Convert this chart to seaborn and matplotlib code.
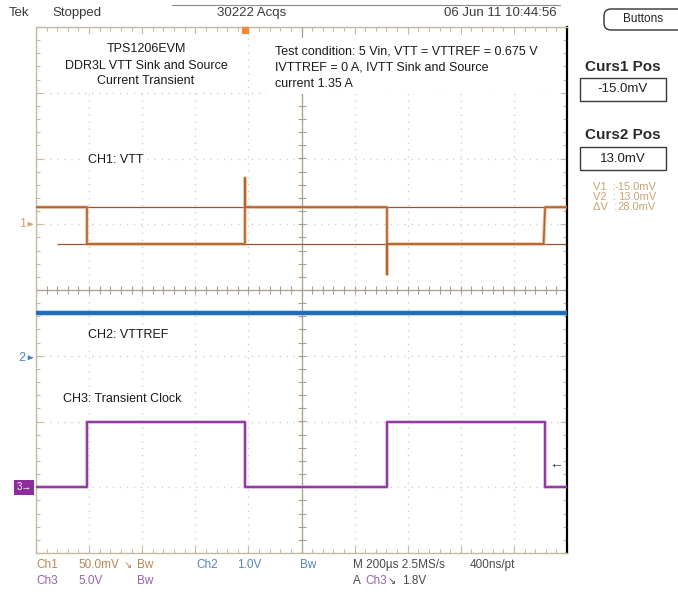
import numpy as np
import pandas as pd
import matplotlib
matplotlib.use("Agg")
import matplotlib.pyplot as plt
import matplotlib.patheffects as pe
from matplotlib.ticker import MultipleLocator
from matplotlib.patches import Rectangle, FancyBboxPatch
from matplotlib.transforms import blended_transform_factory
import seaborn as sns

# ---- scope settings -------------------------------------------------------
time_per_div_us = 200          # M 200us
ch1_scale_mv = 50.0            # Ch1 50.0 mV/div
ch1_offset_div = 1.0
ch2_scale_v = 1.0              # Ch2 1.0 V/div
ch2_offset_div = -1.03
ch3_scale_v = 5.0              # Ch3 5.0 V/div
ch3_offset_div = -3.0
trigger_level_v = 1.8
trigger_time_us = -213

# ---- captured waveforms (breakpoints) -------------------------------------
ch1_time_us = [-1000, -808, -808, -213, -213, -213, 322, 322, 322, 912, 916, 918, 1000]
ch1_mv      = [13, 13, -15, -15, 35, 13, 13, -38, -15, -15, 6, 13, 13]

ch2_time_us = [-1000, 1000]
ch2_v       = [0.675, 0.675]

ch3_time_us = [-1000, -808, -808, -213, -213, 322, 322, 917, 917, 1000]
ch3_v       = [0, 0, 5, 5, 0, 0, 5, 5, 0, 0]

cursor_mv = [-15.0, 13.0]

# ---- colours ---------------------------------------------------------------
ch1_color = "#b5612a"
ch2_color = "#1f6cb6"
ch3_color = "#8f2c9d"
grid_color = "#d8cebd"
frame_color = "#c6b9a2"
cross_color = "#aaa092"
sans = ["Liberation Sans", "DejaVu Sans"]
narrow = ["Liberation Sans Narrow", "Liberation Sans", "DejaVu Sans"]

sns.set_theme(style="white")
plt.rcParams["font.family"] = sans

fig = plt.figure(figsize=(6.78, 5.92), dpi=100)
fig.patch.set_facecolor("white")
ax = fig.add_axes([36 / 678, 1 - 553 / 592, 531 / 678, 526 / 592])
ax.set_facecolor("white")

# graticule
ax.set_xlim(-5 * time_per_div_us, 5 * time_per_div_us)
ax.set_ylim(-4, 4)
ax.xaxis.set_major_locator(MultipleLocator(time_per_div_us))
ax.xaxis.set_minor_locator(MultipleLocator(time_per_div_us / 5))
ax.yaxis.set_major_locator(MultipleLocator(1))
ax.yaxis.set_minor_locator(MultipleLocator(0.2))
ax.grid(which="major", color=grid_color, linestyle=(0, (1, 4)), linewidth=1.0)
ax.tick_params(which="both", direction="in", top=True, bottom=True, left=True,
               right=True, labelbottom=False, labelleft=False, color=frame_color)
ax.tick_params(which="major", length=5, width=0.8)
ax.tick_params(which="minor", length=3, width=0.8)
for side in ["left", "top", "bottom"]:
    ax.spines[side].set_color(frame_color)
    ax.spines[side].set_linewidth(1.0)
ax.spines["right"].set_color("black")
ax.spines["right"].set_linewidth(1.6)

ax.axhline(0, color=cross_color, lw=0.9, zorder=1)
ax.axvline(0, color=cross_color, lw=0.9, zorder=1)
minor_t = np.arange(-5 * time_per_div_us, 5 * time_per_div_us + 1, time_per_div_us / 5)
minor_y = np.arange(-4, 4.01, 0.2)
ax.plot(minor_t, np.zeros_like(minor_t), ls="none", marker="|", ms=6,
        mew=0.8, color=cross_color, zorder=1)
ax.plot(np.zeros_like(minor_y), minor_y, ls="none", marker="_", ms=6,
        mew=0.8, color=cross_color, zorder=1)

# cursor lines on Ch1
cur_div = [ch1_offset_div + v / ch1_scale_mv for v in cursor_mv]
ax.hlines(cur_div[0], -920, 1000, color="#98552c", lw=0.9, zorder=2)
ax.hlines(cur_div[1], -1000, 1000, color="#98552c", lw=0.9, zorder=2)

# traces
df1 = pd.DataFrame({"t": ch1_time_us,
                    "div": ch1_offset_div + np.array(ch1_mv) / ch1_scale_mv})
df2 = pd.DataFrame({"t": ch2_time_us,
                    "div": ch2_offset_div + np.array(ch2_v) / ch2_scale_v})
df3 = pd.DataFrame({"t": ch3_time_us,
                    "div": ch3_offset_div + np.array(ch3_v) / ch3_scale_v})

sns.lineplot(data=df1, x="t", y="div", ax=ax, sort=False, estimator=None,
             color=ch1_color, lw=1.2, zorder=4,
             path_effects=[pe.Stroke(linewidth=2.6, foreground="#dca272", alpha=0.6), pe.Normal()])
sns.lineplot(data=df2, x="t", y="div", ax=ax, sort=False, estimator=None,
             color=ch2_color, lw=2.8, zorder=4,
             path_effects=[pe.Stroke(linewidth=4.0, foreground="#74a6d8", alpha=0.6), pe.Normal()])
sns.lineplot(data=df3, x="t", y="div", ax=ax, sort=False, estimator=None,
             color=ch3_color, lw=1.3, zorder=4,
             path_effects=[pe.Stroke(linewidth=2.6, foreground="#bb84c8", alpha=0.6), pe.Normal()])
ax.set_xlabel("")
ax.set_ylabel("")

# trigger position marker and trigger level arrow
ax.plot([trigger_time_us], [3.96], marker="s", ms=4.5, color="#f08a3a",
        clip_on=False, zorder=6)
trig_div = ch3_offset_div + trigger_level_v / ch3_scale_v
ax.text(960, trig_div, "\u2190", ha="center", va="center", fontsize=10,
        color="#333333", zorder=6)

# channel ground markers on the left
blend = blended_transform_factory(ax.transAxes, ax.transData)
for lab, off, col in [("1", ch1_offset_div, "#d9a070"), ("2", ch2_offset_div, "#4f86c0")]:
    ax.text(-0.026, off, lab, transform=blend, ha="center", va="center",
            fontsize=9, color=col, clip_on=False)
    ax.annotate("", xy=(0.0, off), xycoords=blend, xytext=(-0.015, off),
                textcoords=blend,
                arrowprops=dict(arrowstyle="-|>", color=col, lw=1.0, mutation_scale=6))
ax.text(-0.022, ch3_offset_div, "3\u2192", transform=blend, ha="center",
        va="center", fontsize=7, color="white", clip_on=False,
        bbox=dict(boxstyle="square,pad=0.25", fc=ch3_color, ec="none"))

# ---- screen overlay in pixel coordinates ----------------------------------
ov = fig.add_axes([0, 0, 1, 1], zorder=5)
ov.set_xlim(0, 678)
ov.set_ylim(592, 0)
ov.axis("off")

hdr = dict(family=narrow, fontsize=9.5, color="#3a3a3a", va="center")
ov.text(9, 13, "Tek", ha="left", **hdr)
ov.text(52, 13, "Stopped", ha="left", **hdr)
ov.text(252, 13, "30222 Acqs", ha="center", **hdr)
ov.text(500, 13, "06 Jun 11 10:44:56", ha="center", **hdr)
ov.plot([172, 560], [5, 5], color="#8a8a8a", lw=0.8)

ov.add_patch(Rectangle((42, 34), 205, 57, fc="white", ec="none"))
ann = dict(family=sans, fontsize=9, color="#1a1a1a", va="center")
ov.text(146, 49, "TPS1206EVM", ha="center", **ann)
ov.text(146, 66, "DDR3L VTT Sink and Source", ha="center", **ann)
ov.text(146, 81, "Current Transient", ha="center", **ann)

ov.add_patch(Rectangle((266, 38), 295, 56, fc="white", ec="none"))
ov.text(275, 52, "Test condition: 5 Vin, VTT = VTTREF = 0.675 V", ha="left", **ann)
ov.text(275, 68, "IVTTREF = 0 A, IVTT Sink and Source", ha="left", **ann)
ov.text(275, 84, "current 1.35 A", ha="left", **ann)

box = dict(boxstyle="square,pad=0.3", fc="white", ec="none")
ov.text(88, 160, "CH1: VTT", ha="left", bbox=box, **ann)
ov.text(88, 335, "CH2: VTTREF", ha="left", bbox=box, **ann)
ov.text(63, 399, "CH3: Transient Clock", ha="left", bbox=box, **ann)

# right-hand menu
ov.add_patch(FancyBboxPatch((604, 9), 82, 21, boxstyle="round,pad=0,rounding_size=7",
                            fc="white", ec="#333333", lw=1.0, clip_on=False))
ov.text(643, 19.5, "Buttons", ha="center", va="center", family=narrow,
        fontsize=8.5, color="#222222")
menu_head = dict(family=narrow, fontsize=11, fontweight="bold", color="#2a2a2a",
                 ha="center", va="center")
menu_val = dict(family=narrow, fontsize=9.5, color="#222222", ha="center", va="center")
ov.text(623, 67, "Curs1 Pos", **menu_head)
ov.add_patch(Rectangle((580, 78), 86, 23, fc="white", ec="#3a3a3a", lw=1.0))
ov.text(623, 89.5, "-15.0mV", **menu_val)
ov.text(623, 135, "Curs2 Pos", **menu_head)
ov.add_patch(Rectangle((580, 147), 86, 23, fc="white", ec="#3a3a3a", lw=1.0))
ov.text(623, 158.5, "13.0mV", **menu_val)

cur = dict(family=narrow, fontsize=8, color="#c9a473", va="center")
for y, lab, val in [(187, "V1  :", "-15.0mV"), (197, "V2  :", "13.0mV"),
                    (207, "\u0394V  :", "28.0mV")]:
    ov.text(593, y, lab, ha="left", **cur)
    ov.text(656, y, val, ha="right", **cur)

# readout line at the bottom
c1, c2, c3, dk = "#b78650", "#5385b6", "#9b60ad", "#4a4a4a"
rd = dict(family=narrow, fontsize=8.5, va="center", ha="left")
ov.text(36, 565, "Ch1", color=c1, **rd)
ov.text(78, 565, "50.0mV", color=c1, **rd)
ov.text(124, 565, "\u2198", color=c1, fontsize=7, va="center", ha="left")
ov.text(137, 565, "Bw", color=c1, **rd)
ov.text(196, 565, "Ch2", color=c2, **rd)
ov.text(237, 565, "1.0V", color=c2, **rd)
ov.text(300, 565, "Bw", color=c2, **rd)
ov.text(353, 565, "M 200\u00b5s 2.5MS/s", color=dk, **rd)
ov.text(470, 565, "400ns/pt", color=dk, **rd)
ov.text(36, 581, "Ch3", color=c3, **rd)
ov.text(78, 581, "5.0V", color=c3, **rd)
ov.text(137, 581, "Bw", color=c3, **rd)
ov.text(353, 581, "A", color=dk, **rd)
ov.text(365, 581, "Ch3", color=c3, **rd)
ov.text(388, 581, "\u2198", color=dk, fontsize=7, va="center", ha="left")
ov.text(402, 581, "1.8V", color=dk, **rd)

fig.savefig("out.png", dpi=100, facecolor="white")
